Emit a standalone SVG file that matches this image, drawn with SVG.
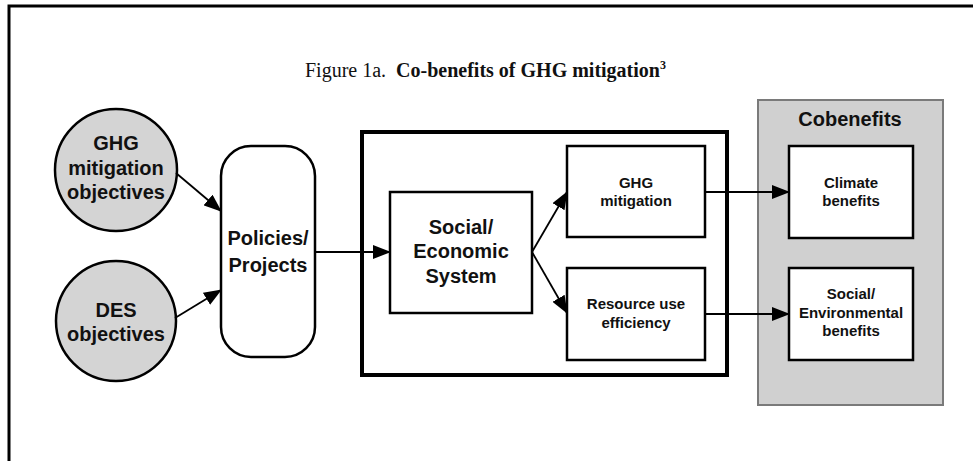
<svg xmlns="http://www.w3.org/2000/svg" width="973" height="461" viewBox="0 0 973 461">
  <style>
    .lbl { font-family: "Liberation Sans", Arial, sans-serif; font-weight: bold; fill: #111; text-anchor: middle; }
    .big { font-size: 20px; }
    .small { font-size: 15px; }
    .box { fill: #fff; stroke: #000; stroke-width: 2.5; }
    .obj { fill: #d4d4d4; stroke: #000; stroke-width: 2.5; }
    .conn { fill: none; stroke: #000; stroke-width: 1.8; marker-end: url(#arrow); }
    .title { font-family: "Liberation Serif", "Times New Roman", serif; font-size: 20px; fill: #111; }
  </style>
  <defs>
    <marker id="arrow" markerUnits="userSpaceOnUse" markerWidth="18" markerHeight="14" viewBox="0 0 18 14" refX="17" refY="7" orient="auto">
      <path d="M0,0 L18,7 L0,14 Z" fill="#000"/>
    </marker>
  </defs>

  <rect width="973" height="461" fill="#fff"/>
  <!-- page frame (top and left edges) -->
  <path d="M9,461 V6 H973" fill="none" stroke="#000" stroke-width="3"/>

  <text class="title" x="305" y="77">Figure 1a.<tspan dx="10" font-weight="bold">Co-benefits of GHG mitigation</tspan><tspan font-weight="bold" font-size="12" dy="-8">3</tspan></text>

  <g id="ghg-objectives">
    <circle class="obj" cx="116" cy="170" r="61"/>
    <text class="lbl big" x="116" y="150">GHG</text>
    <text class="lbl big" x="116" y="175">mitigation</text>
    <text class="lbl big" x="116" y="199">objectives</text>
  </g>

  <g id="des-objectives">
    <circle class="obj" cx="116" cy="321" r="60"/>
    <text class="lbl big" x="116" y="317">DES</text>
    <text class="lbl big" x="116" y="341">objectives</text>
  </g>

  <g id="policies">
    <rect class="box" x="221" y="146" width="94" height="211" rx="30" ry="30"/>
    <text class="lbl big" x="268" y="245">Policies/</text>
    <text class="lbl big" x="268" y="272">Projects</text>
  </g>

  <g id="system-frame">
    <rect x="362" y="132" width="365" height="243" fill="none" stroke="#000" stroke-width="4"/>
  </g>

  <g id="social-economic">
    <rect class="box" x="390" y="192" width="142" height="121"/>
    <text class="lbl big" x="461" y="234">Social/</text>
    <text class="lbl big" x="461" y="258">Economic</text>
    <text class="lbl big" x="461" y="283">System</text>
  </g>

  <g id="ghg-mitigation">
    <rect class="box" x="567" y="146" width="138" height="91"/>
    <text class="lbl small" x="636" y="188">GHG</text>
    <text class="lbl small" x="636" y="206">mitigation</text>
  </g>

  <g id="resource-efficiency">
    <rect class="box" x="567" y="268" width="138" height="92"/>
    <text class="lbl small" x="636" y="309">Resource use</text>
    <text class="lbl small" x="636" y="328">efficiency</text>
  </g>

  <g id="cobenefits">
    <rect x="758" y="100" width="185" height="305" fill="#d0d0d0" stroke="#7a7a7a" stroke-width="2"/>
    <text class="lbl big" x="850" y="126">Cobenefits</text>
  </g>

  <g id="climate-benefits">
    <rect class="box" x="789" y="146" width="124" height="92"/>
    <text class="lbl small" x="851" y="188">Climate</text>
    <text class="lbl small" x="851" y="206">benefits</text>
  </g>

  <g id="social-environmental-benefits">
    <rect class="box" x="789" y="268" width="124" height="92"/>
    <text class="lbl small" x="851" y="299">Social/</text>
    <text class="lbl small" x="851" y="318">Environmental</text>
    <text class="lbl small" x="851" y="336">benefits</text>
  </g>

  <g id="connectors">
    <line class="conn" x1="176" y1="173" x2="221" y2="211"/>
    <line class="conn" x1="175" y1="318" x2="221" y2="290"/>
    <line class="conn" x1="315" y1="252" x2="390" y2="252"/>
    <line class="conn" x1="532" y1="252" x2="567" y2="192"/>
    <line class="conn" x1="532" y1="252" x2="567" y2="313"/>
    <line class="conn" x1="705" y1="192" x2="789" y2="192"/>
    <line class="conn" x1="705" y1="314" x2="789" y2="314"/>
  </g>
</svg>
